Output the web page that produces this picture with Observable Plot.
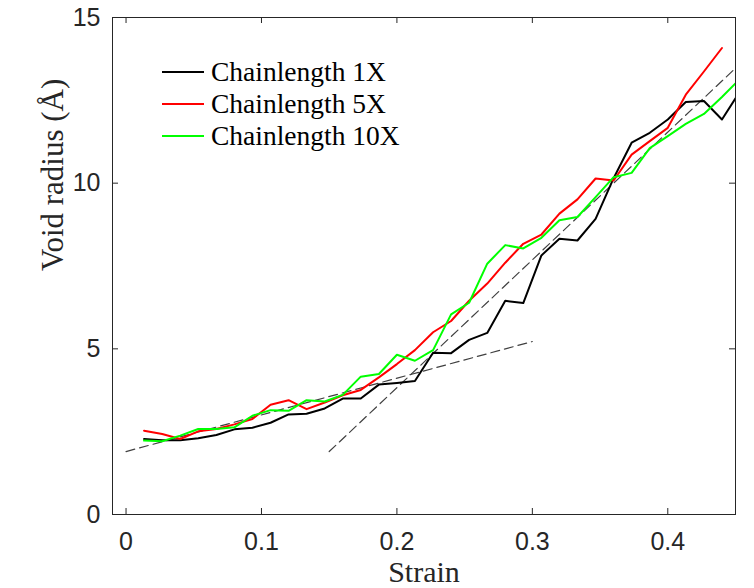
<!DOCTYPE html>
<html>
<head>
<meta charset="utf-8">
<script src="https://cdn.jsdelivr.net/npm/d3@7"></script>
<script src="https://cdn.jsdelivr.net/npm/@observablehq/plot@0.6"></script>
<style>
  html, body { margin: 0; padding: 0; background: #fff; }
  #wrap { position: relative; width: 754px; height: 588px; }
  .legend { position: absolute; left: 162px; top: 56px; font-family: "Liberation Serif", serif; font-size: 27.5px; color: #000; }
  .row { display: flex; align-items: center; height: 32px; line-height: 32px; white-space: nowrap; }
  .swatch { width: 42px; height: 2px; margin-right: 7px; }
</style>
</head>
<body>
<div id="wrap"></div>
<script>
// ---- data ----
const strain = [0.0133,0.0267,0.0400,0.0533,0.0667,0.0800,0.0933,0.1067,0.1200,0.1333,
                0.1467,0.1600,0.1733,0.1867,0.2000,0.2133,0.2267,0.2400,0.2533,0.2667,
                0.2800,0.2933,0.3067,0.3200,0.3333,0.3467,0.3600,0.3733,0.3867,0.4000,
                0.4133,0.4267,0.4400,0.4533];
const void1X = [2.28,2.24,2.24,2.30,2.40,2.57,2.62,2.77,3.02,3.04,
                3.20,3.50,3.50,3.92,3.97,4.03,4.88,4.87,5.27,5.48,
                6.45,6.38,7.82,8.32,8.27,8.92,10.15,11.22,11.52,11.92,
                12.45,12.48,11.92,12.77];
const void5X = [2.53,2.43,2.28,2.51,2.58,2.72,2.88,3.31,3.45,3.18,
                3.38,3.60,3.76,4.14,4.54,4.96,5.50,5.84,6.45,6.97,
                7.60,8.17,8.45,9.08,9.51,10.14,10.08,10.86,11.27,11.67,
                12.67,13.37,14.08];
const void10X = [2.23,2.21,2.38,2.58,2.58,2.63,2.98,3.15,3.13,3.45,
                 3.41,3.61,4.16,4.24,4.82,4.64,4.96,6.04,6.39,7.57,
                 8.13,8.03,8.35,8.88,8.98,9.58,10.18,10.31,11.06,11.42,
                 11.79,12.09,12.60,13.15];
const fitLowX = [0, 0.30];
const fitLowY = [1.90, 5.22];
const fitHighX = [0.15, 0.45];
const fitHighY = [1.90, 13.47];
const xTicks = [0, 0.1, 0.2, 0.3, 0.4];
const yTicks = [0, 5, 10, 15];
const xDomain = [-0.01, 0.45];
const yDomain = [0, 15];
const seriesNames = ["Chainlength 1X", "Chainlength 5X", "Chainlength 10X"];
const seriesColors = ["#000000", "#ff0000", "#00ff00"];
const seriesValues = [void1X, void5X, void10X];

// ---- build tables ----
const table = seriesValues.flatMap((vals, s) =>
  vals.map((v, i) => ({strain: strain[i], radius: v, series: seriesNames[s]})));
const fits = [
  fitLowX.map((x, i) => ({x, y: fitLowY[i], fit: "low"})),
  fitHighX.map((x, i) => ({x, y: fitHighY[i], fit: "high"}))
].flat();

const W = 754, H = 588;
const mL = 112, mR = 19, mT = 17, mB = 74;
const tickPx = 6;
const tyLen = tickPx * (yDomain[1] - yDomain[0]) / (H - mT - mB);
const txLen = tickPx * (xDomain[1] - xDomain[0]) / (W - mL - mR);
const axisColor = "#262626";

const chart = Plot.plot({
  width: W, height: H,
  marginLeft: mL, marginRight: mR, marginTop: mT, marginBottom: mB,
  style: {fontFamily: "Liberation Sans, Arial, sans-serif", fontSize: "25px", background: "#fff", color: axisColor, overflow: "visible"},
  x: {domain: xDomain},
  y: {domain: yDomain},
  color: {domain: seriesNames, range: seriesColors},
  marks: [
    Plot.axisX(xTicks, {tickSize: 0, tickPadding: 18, label: null, tickFormat: d => String(d), fill: axisColor}),
    Plot.axisY(yTicks, {tickSize: 0, tickPadding: 12, label: null, tickFormat: d => String(d), fill: axisColor}),
    // inward ticks
    Plot.ruleX(xTicks, {x: d => d, y1: yDomain[0], y2: yDomain[0] + tyLen, stroke: axisColor, strokeWidth: 1}),
    Plot.ruleX(xTicks, {x: d => d, y1: yDomain[1], y2: yDomain[1] - tyLen, stroke: axisColor, strokeWidth: 1}),
    Plot.ruleY(yTicks, {y: d => d, x1: xDomain[0], x2: xDomain[0] + txLen, stroke: axisColor, strokeWidth: 1}),
    Plot.ruleY(yTicks, {y: d => d, x1: xDomain[1], x2: xDomain[1] - txLen, stroke: axisColor, strokeWidth: 1}),
    // dashed fit lines
    Plot.line(fits, {x: "x", y: "y", z: "fit", stroke: "#404040", strokeWidth: 1.2, strokeDasharray: "9,5", clip: true}),
    // data
    Plot.line(table, {x: "strain", y: "radius", z: "series", stroke: "series", strokeWidth: 2, clip: true}),
    Plot.frame({stroke: axisColor, strokeWidth: 1}),
    // axis titles
    Plot.text(["Strain"], {frameAnchor: "bottom", text: d => d, dy: 67, lineAnchor: "bottom",
      fontFamily: "Liberation Serif, serif", fontSize: 30, fill: axisColor}),
    Plot.text(["Void radius (Å)"], {frameAnchor: "left", text: d => d, rotate: -90, dx: -50, dy: 5, lineAnchor: "bottom",
      fontFamily: "Liberation Serif, serif", fontSize: 31, fill: axisColor})
  ]
});

const wrap = document.getElementById("wrap");
wrap.appendChild(chart);

// legend inside the axes (top-left)
const legend = document.createElement("div");
legend.className = "legend";
seriesNames.forEach((name, i) => {
  const row = document.createElement("div");
  row.className = "row";
  const sw = document.createElement("span");
  sw.className = "swatch";
  sw.style.background = seriesColors[i];
  const label = document.createElement("span");
  label.textContent = name;
  row.appendChild(sw);
  row.appendChild(label);
  legend.appendChild(row);
});
wrap.appendChild(legend);
</script>
</body>
</html>
